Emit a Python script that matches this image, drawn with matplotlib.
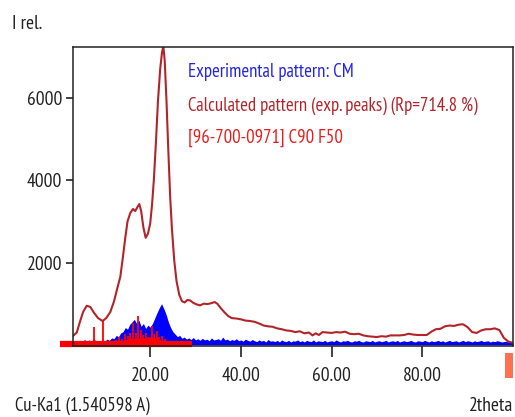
import numpy as np
import matplotlib.pyplot as plt
from matplotlib import font_manager
from matplotlib.patches import Rectangle

# narrow font like the original software uses
avail = {f.name for f in font_manager.fontManager.ttflist}
fam = 'PT Sans Narrow' if 'PT Sans Narrow' in avail else 'DejaVu Sans'
plt.rcParams['font.family'] = [fam, 'DejaVu Sans']
plt.rcParams['font.stretch'] = 'condensed'

# Experimental pattern (blue), 2theta from 3 to 100 in 0.5 steps
exp_start, exp_step = 3.0, 0.5
exp_counts = [
    40, 90, 60, 110, 70, 130, 80, 120, 90, 140, 100, 110, 70, 120, 90, 140, 110, 170, 150, 230,
    200, 290, 320, 420, 380, 500, 560, 620, 520, 600, 450, 520, 400, 480, 430, 520, 650, 780, 900, 1000,
    880, 740, 560, 420, 320, 260, 200, 230, 160, 190, 140, 170, 130, 180, 120, 150, 110, 160, 120, 140,
    100, 170, 120, 130, 150, 110, 190, 120, 140, 100, 130, 110, 150, 100, 120, 90, 140, 110, 90, 130,
    100, 80, 120, 90, 110, 70, 130, 90, 100, 80, 110, 70, 120, 90, 80, 110, 70, 100, 90, 120,
    80, 100, 70, 110, 90, 80, 120, 70, 100, 90, 80, 110, 70, 90, 100, 80, 120, 90, 70, 100,
    90, 110, 80, 70, 100, 90, 110, 80, 70, 100, 90, 80, 110, 70, 90, 100, 80, 90, 110, 70,
    90, 100, 80, 110, 70, 90, 100, 80, 90, 110, 80, 70, 100, 90, 80, 110, 90, 70, 100, 80,
    90, 110, 80, 100, 70, 90, 110, 80, 90, 100, 70, 90, 110, 80, 100, 90, 70, 100, 80, 90,
    110, 80, 90, 100, 70, 90, 80, 100, 90, 70, 80, 90, 70, 60, 50,
]

# Calculated pattern (dark red line)
calc_2theta = [3.0, 3.8, 4.5, 5.2, 6.0, 6.8, 7.6, 8.5, 9.5, 10.3, 11.2, 12.0, 12.8, 13.4, 14.0,
               14.5, 15.0, 15.6, 16.2, 16.7, 17.2, 17.6, 18.0, 18.5, 19.0, 19.5, 20.0, 20.4, 20.8,
               21.3, 21.7, 22.2, 22.6, 22.9, 23.2, 23.6, 24.0, 24.4, 24.8, 25.3, 25.8, 26.4, 27.0,
               27.6, 28.2, 28.8, 29.5, 30.3, 31.0, 31.8, 32.6, 33.4, 34.2, 34.8, 35.5, 36.3, 37.2,
               38.0, 39.0, 40.0, 41.0, 42.0, 43.0, 44.0, 45.0, 46.0, 47.0, 48.0, 49.0, 50.0, 51.0,
               52.0, 53.0, 54.0, 55.0, 55.8, 56.5, 57.2, 58.0, 59.0, 60.0, 61.0, 62.0, 63.0, 64.0,
               65.0, 66.0, 67.0, 68.0, 69.0, 70.0, 71.0, 72.0, 73.0, 74.0, 75.0, 76.0, 77.0, 78.0,
               79.0, 80.0, 81.0, 82.0, 83.0, 84.0, 85.0, 86.0, 87.0, 88.0, 89.0, 90.0, 91.0, 92.0,
               93.0, 94.0, 95.0, 96.0, 97.0, 98.0, 99.0, 100.0]
calc_counts = [220, 300, 560, 800, 950, 920, 780, 650, 580, 650, 800, 1050, 1400, 1650, 2150,
               2600, 3000, 3200, 3300, 3250, 3350, 3420, 3250, 2850, 2600, 2700, 2950, 3400, 4000,
               5000, 5900, 6700, 7100, 7250, 6900, 5900, 4700, 3600, 2800, 2050, 1550, 1220, 1060,
               1030, 1090, 1080, 1020, 980, 960, 1000, 990, 1010, 1040, 1000, 900, 800, 700,
               650, 640, 620, 590, 580, 560, 520, 470, 450, 440, 400, 380, 350, 340,
               310, 330, 280, 300, 230, 280, 240, 310, 300, 290, 310, 300, 320, 270,
               260, 270, 230, 210, 200, 190, 210, 200, 230, 230, 230, 240, 270, 250,
               240, 240, 240, 320, 380, 390, 450, 470, 460, 490, 500, 430, 310, 290,
               350, 380, 380, 400, 360, 170, 80, 50]

# Reference peaks (red sticks)
peak_2theta = [7.7, 9.6, 12.5, 13.2, 13.8, 14.4, 15.0, 15.6, 16.2, 16.8, 17.4, 17.9, 18.4,
               19.0, 19.6, 20.3, 20.8, 21.4, 22.0, 22.6, 23.2, 24.0, 25.0, 26.2, 27.5, 28.8]
peak_counts = [430, 570, 120, 180, 150, 260, 220, 300, 530, 280, 700, 350, 240,
               300, 200, 460, 260, 330, 180, 220, 140, 100, 80, 60, 50, 40]
band_2theta = [12.0, 13.0, 14.0, 15.0, 16.0, 17.0, 18.0, 19.0, 20.0, 21.0, 22.0, 23.0, 24.0, 25.0]
band_counts = [0, 60, 100, 140, 170, 160, 180, 150, 200, 180, 130, 90, 50, 0]

exp_2theta = exp_start + exp_step * np.arange(len(exp_counts))

fig = plt.figure(figsize=(5.15, 4.17), dpi=100)
ax = fig.add_axes([0.142, 0.170, 0.854, 0.717])

ax.fill_between(exp_2theta, 0, exp_counts, color='#0000ff', lw=0)
ax.vlines(peak_2theta, 0, peak_counts, color='#ff0000', lw=1.3)
ax.fill_between(band_2theta, 0, band_counts, color='#ff0000', lw=0)
ax.plot([0, 29.3], [30, 30], color='#ff0000', lw=4.5, solid_capstyle='butt', clip_on=False)
ax.plot(calc_2theta, calc_counts, color='#b3242a', lw=1.5)

ax.set_xlim(3, 100)
ax.set_ylim(-30, 7230)
ax.set_xticks([20, 40, 60, 80])
ax.set_xticklabels(['20.00', '40.00', '60.00', '80.00'])
ax.set_yticks([0, 2000, 4000, 6000])
ax.set_yticklabels(['', '2000', '4000', '6000'])
ax.tick_params(axis='x', length=8, width=1.2, pad=7, labelsize=14, colors='#222222')
ax.tick_params(axis='y', length=5, width=1.2, pad=3, labelsize=14, colors='#222222')
for sp in ax.spines.values():
    sp.set_linewidth(1.1)
    sp.set_color('#222222')

ax.text(0.261, 0.90, 'Experimental pattern: CM', transform=ax.transAxes, color='#2424e8', fontsize=13.5)
ax.text(0.261, 0.789, 'Calculated pattern (exp. peaks) (Rp=714.8 %)', transform=ax.transAxes,
        color='#b3242a', fontsize=13.5)
ax.text(0.261, 0.679, '[96-700-0971] C90 F50', transform=ax.transAxes, color='#e81c1c', fontsize=13.5)

fig.text(0.023, 0.93, 'I rel.', fontsize=14, color='#222222')
fig.text(0.029, 0.015, 'Cu-Ka1 (1.540598 A)', fontsize=13.5, color='#222222')
fig.text(0.997, 0.015, '2theta', fontsize=14, ha='right', color='#222222')
fig.patches.append(Rectangle((0.980, 0.094), 0.017, 0.060, transform=fig.transFigure,
                             facecolor='#ff7050', edgecolor='none'))

fig.savefig('out.png', dpi=100)
